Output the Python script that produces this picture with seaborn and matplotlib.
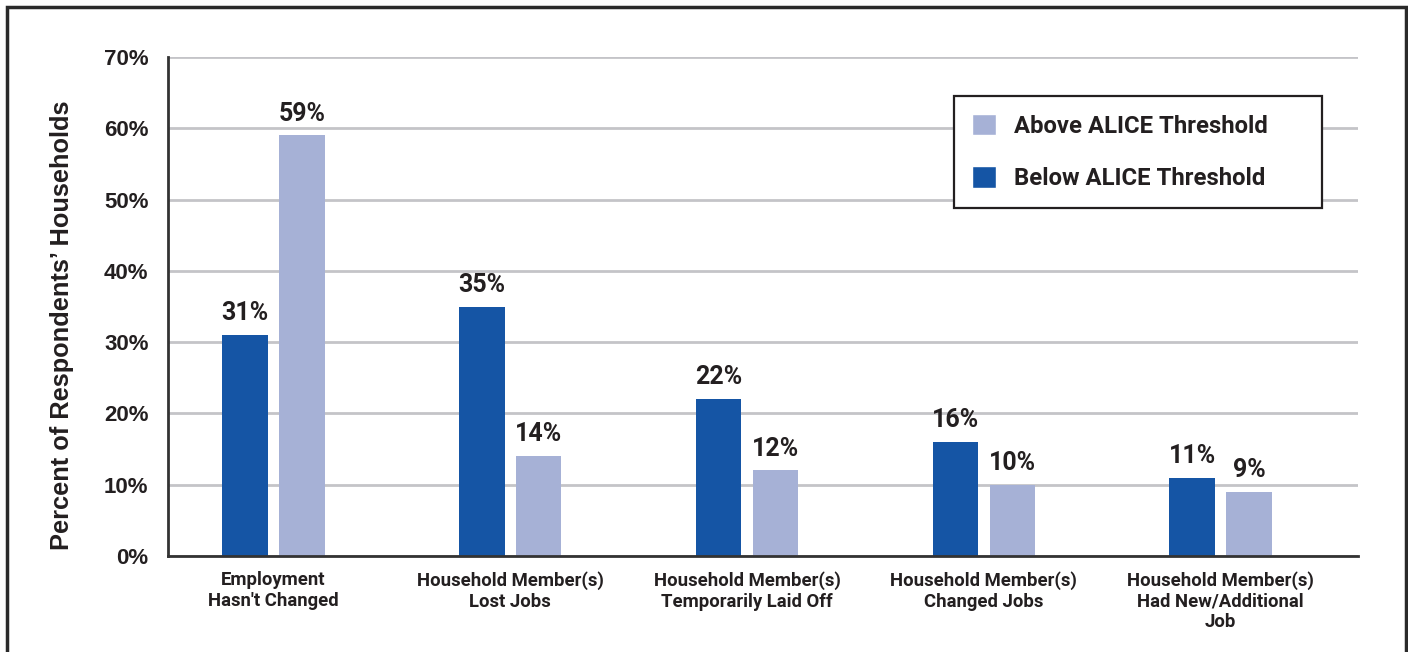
import matplotlib
matplotlib.use("Agg")
import matplotlib.pyplot as plt
import seaborn as sns
import pandas as pd
from matplotlib.patches import Rectangle, Patch

categories = ["Employment\nHasn't Changed", "Household Member(s)\nLost Jobs",
              "Household Member(s)\nTemporarily Laid Off", "Household Member(s)\nChanged Jobs",
              "Household Member(s)\nHad New/Additional\nJob"]
below = [31, 35, 22, 16, 11]
above = [59, 14, 12, 10, 9]
series = ["Below ALICE Threshold", "Above ALICE Threshold"]
yticks = [0, 10, 20, 30, 40, 50, 60, 70]

df = pd.DataFrame({
    "cat": categories * 2,
    "val": below + above,
    "grp": [series[0]] * 5 + [series[1]] * 5,
})

DARK = "#1555a5"
LIGHT = "#a6b1d6"
TXT = "#231f20"

sns.set_theme(style="white")
plt.rcParams['font.family'] = ['Roboto', 'DejaVu Sans']

fig = plt.figure(figsize=(14.08, 6.52), dpi=100)
ax = fig.add_axes([168/1408, 1-556/652, (1358-168)/1408, (556-57)/652])

sns.barplot(data=df, x="cat", y="val", hue="grp", hue_order=series,
            palette=[DARK, LIGHT], width=0.48, gap=0.2, ax=ax,
            legend=False, saturation=1, zorder=3, linewidth=0, edgecolor="none")

for cont in ax.containers:
    ax.bar_label(cont, labels=[f"{v:.0f}%" for v in cont.datavalues], padding=7,
                 fontsize=18, fontweight="bold", color=TXT, fontfamily="Roboto")

ax.set_ylim(0, 70)
ax.set_xlim(-0.445, 4.58)
ax.set_yticks(yticks)
ax.set_yticklabels([f"{t}%" for t in yticks], fontsize=16, fontweight="bold",
                   color=TXT, fontfamily="Liberation Sans")
ax.set_xticks(range(5))
ax.set_xticklabels(categories, fontsize=13.3, fontweight="bold", color=TXT,
                   linespacing=1.18)
ax.tick_params(axis="both", length=0)
ax.tick_params(axis="y", pad=14)
ax.tick_params(axis="x", pad=11)
ax.set_xlabel("")
ax.set_ylabel("")
fig.text(62/1408, 1-325/652, "Percent of Respondents\u2019 Households", rotation=90,
         ha="center", va="center", fontsize=18.3, fontweight="bold", color=TXT,
         fontfamily="Liberation Sans")

ax.yaxis.grid(True, color="#c4c4c8", linewidth=2, zorder=0)
ax.xaxis.grid(False)
for s in ["top", "right"]:
    ax.spines[s].set_visible(False)
for s in ["left", "bottom"]:
    ax.spines[s].set_color("#333333")
    ax.spines[s].set_linewidth(2)
    ax.spines[s].set_zorder(4)

pad_txt = "      "
handles = [Patch(facecolor=LIGHT, label=series[1] + pad_txt),
           Patch(facecolor=DARK, label=series[0] + pad_txt)]
leg = ax.legend(handles=handles, loc="upper right", bbox_to_anchor=((1322-168)/1190, (556-96)/499),
                frameon=True, fancybox=False, edgecolor="#231f20", framealpha=1,
                prop={"family": "Roboto", "weight": "bold", "size": 17.2},
                handlelength=1.0, handleheight=1.0, handletextpad=0.75,
                borderpad=0.75, labelspacing=1.2, borderaxespad=0)
leg.get_frame().set_linewidth(1.6)
for t in leg.get_texts():
    t.set_color(TXT)

fig.patches.append(Rectangle((7/1408, -0.02), (1406-7)/1408, 1-7/652+0.02,
                             transform=fig.transFigure, fill=False,
                             edgecolor="#2a2a2a", linewidth=2.5))

fig.savefig("out.png", dpi=100)
